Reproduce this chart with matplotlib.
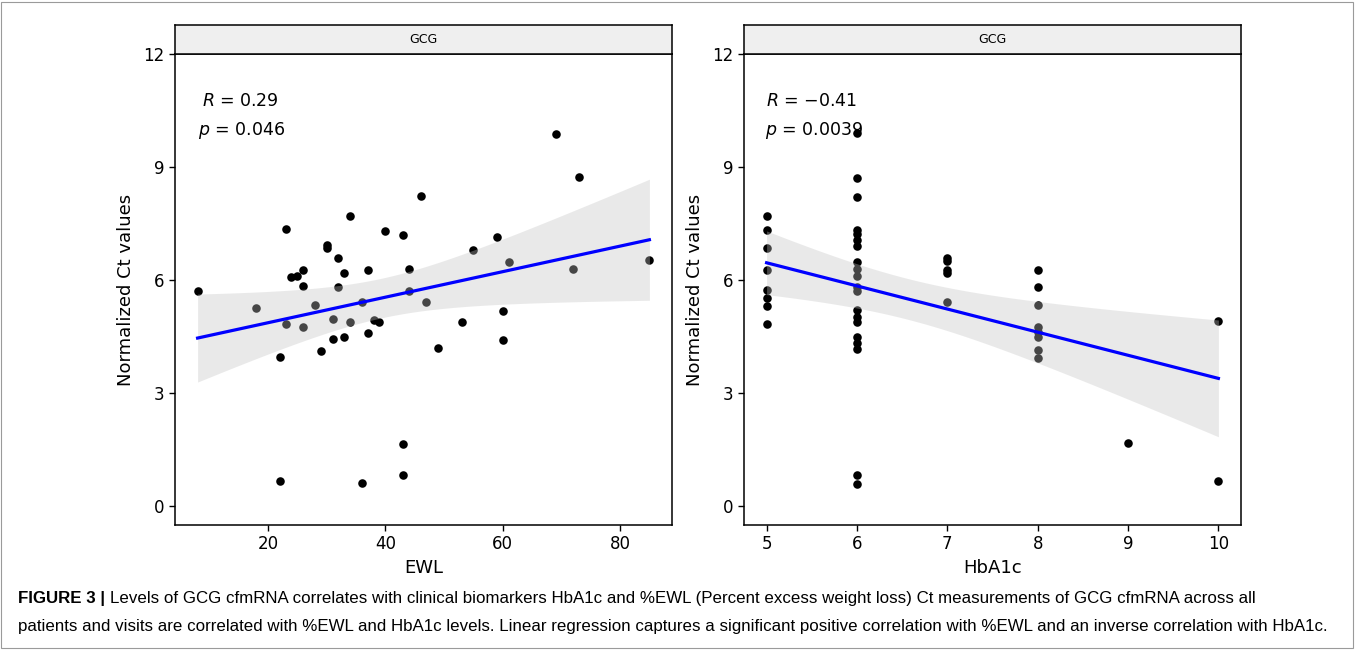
import numpy as np
import matplotlib
matplotlib.use("Agg")
import matplotlib.pyplot as plt
from matplotlib.patches import Rectangle

# EWL panel: one point per patient visit
ewl = [8, 18, 22, 22, 23, 23, 24, 25, 26, 26, 26, 28, 29, 30, 30, 31, 31, 32, 32,
       33, 33, 34, 34, 36, 36, 37, 37, 38, 39, 40, 43, 43, 43, 44, 44, 46, 47, 49,
       53, 55, 59, 60, 60, 61, 69, 72, 73, 85]
ct_ewl = [5.70, 5.27, 3.96, 0.66, 7.35, 4.84, 6.08, 6.10, 6.28, 5.83, 4.75, 5.35,
          4.13, 6.94, 6.85, 4.97, 4.44, 6.59, 5.82, 6.19, 4.50, 7.69, 4.90, 5.43,
          0.62, 6.26, 4.59, 4.95, 4.90, 7.31, 7.19, 1.66, 0.82, 6.30, 5.72, 8.24,
          5.43, 4.19, 4.89, 6.81, 7.14, 5.19, 4.41, 6.47, 9.89, 6.29, 8.73, 6.52]

# HbA1c panel
hba1c = [5] * 8 + [6] * 20 + [7] * 5 + [8] * 8 + [9] + [10] * 2
ct_hba1c = [7.71, 7.34, 6.85, 6.28, 5.74, 5.52, 5.30, 4.83,
            9.91, 8.71, 8.21, 7.34, 7.21, 7.06, 6.90, 6.47, 6.30, 6.10, 5.81, 5.70,
            5.21, 5.03, 4.90, 4.49, 4.33, 4.17, 0.84, 0.60,
            6.59, 6.50, 6.28, 6.19, 5.43,
            6.26, 5.82, 5.35, 4.75, 4.61, 4.49, 4.15, 3.93,
            1.67,
            4.92, 0.67]

stats_ewl = ("0.29", "0.046")
stats_hba1c = ("\u22120.41", "0.0039")
yticks = [0, 3, 6, 9, 12]

caption_bold = "FIGURE 3 |"
caption_1 = ("Levels of GCG cfmRNA correlates with clinical biomarkers HbA1c and %EWL "
             "(Percent excess weight loss) Ct measurements of GCG cfmRNA across all")
caption_2 = ("patients and visits are correlated with %EWL and HbA1c levels. Linear regression "
             "captures a significant positive correlation with %EWL and an inverse correlation with HbA1c.")


def lm_band(x, y, t=2.015):
    x = np.asarray(x, float)
    y = np.asarray(y, float)
    b, a = np.polyfit(x, y, 1)
    xs = np.linspace(x.min(), x.max(), 80)
    fit = a + b * xs
    resid = y - (a + b * x)
    s = np.sqrt(np.sum(resid ** 2) / (len(x) - 2))
    se = s * np.sqrt(1 / len(x) + (xs - x.mean()) ** 2 / np.sum((x - x.mean()) ** 2))
    return xs, fit, fit - t * se, fit + t * se


def panel(rect, x, y, xticks, xlabel, stats, r_x, p_x):
    ax = fig.add_axes(rect)
    ax.scatter(x, y, s=38, color="black", zorder=2, linewidths=0)
    xs, fit, lo, hi = lm_band(x, y)
    ax.fill_between(xs, lo, hi, color="#c4c4c4", alpha=0.36, lw=0, zorder=3)
    ax.plot(xs, fit, color="#0000ff", lw=2.3, zorder=4)
    ax.text(r_x, 10.74, "$R$ = " + stats[0], fontsize=12.5, ha="left", va="center", zorder=1)
    ax.text(p_x, 9.97, "$p$ = " + stats[1], fontsize=12.5, ha="left", va="center", zorder=1)
    span = max(x) - min(x)
    ax.set_xlim(min(x) - 0.05 * span, max(x) + 0.05 * span)
    ax.set_ylim(-0.5, 12)
    ax.set_yticks(yticks)
    ax.set_xticks(xticks)
    ax.tick_params(labelsize=12, length=4, width=1, colors="black")
    for sp in ax.spines.values():
        sp.set_linewidth(1.1)
    ax.set_xlabel(xlabel, fontsize=13, labelpad=4)
    ax.set_ylabel("Normalized Ct values", fontsize=13, labelpad=6)
    # facet strip
    sx = fig.add_axes([rect[0], rect[1] + rect[3], rect[2], 29 / 660])
    sx.set_facecolor("#efefef")
    sx.set_xticks([])
    sx.set_yticks([])
    for sp in sx.spines.values():
        sp.set_linewidth(1.1)
    sx.text(0.5, 0.5, "GCG", fontsize=9, ha="center", va="center", transform=sx.transAxes)
    return ax


fig = plt.figure(figsize=(13.55, 6.6), dpi=100)

panel([175 / 1355, 1 - 525 / 660, 497 / 1355, 471 / 660], ewl, ct_ewl,
      [20, 40, 60, 80], "EWL", stats_ewl, 8.8, 8.0)
panel([744 / 1355, 1 - 525 / 660, 497 / 1355, 471 / 660], hba1c, ct_hba1c,
      [5, 6, 7, 8, 9, 10], "HbA1c", stats_hba1c, 4.99, 4.98)

# outer frame
fig.patches.append(Rectangle((1 / 1355, 12 / 660), 1352 / 1355, 646 / 660,
                             transform=fig.transFigure, fill=False,
                             edgecolor="#9a9a9a", lw=0.8))

cap_font = ["Liberation Sans Narrow", "Liberation Sans", "DejaVu Sans"]
t0 = fig.text(18 / 1355, 1 - 598 / 660, caption_bold, fontsize=12.2, fontweight="bold",
              family=cap_font, va="center", ha="left")
fig.canvas.draw()
bb = t0.get_window_extent()
fig.text((bb.x1 + 5) / 1355, 1 - 598 / 660, caption_1, fontsize=12.2,
         family=cap_font, va="center", ha="left")
fig.text(18 / 1355, 1 - 626 / 660, caption_2, fontsize=12.2,
         family=cap_font, va="center", ha="left")

fig.savefig("out.png", dpi=100)
